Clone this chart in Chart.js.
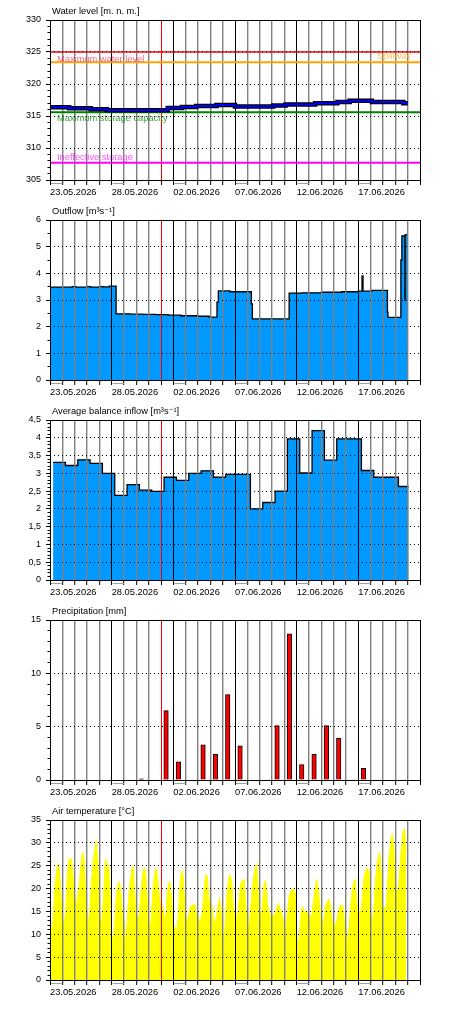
<!DOCTYPE html>
<html>
<head>
<meta charset="utf-8">
<title>Reservoir</title>
<script src="https://cdn.jsdelivr.net/npm/chart.js@4.4.1/dist/chart.umd.min.js"></script>
<style>
  body { margin: 0; background: #fff; width: 450px; height: 1010px; overflow: hidden; }
  canvas { display: block; }
</style>
</head>
<body>
<canvas id="level" width="450" height="200"></canvas>
<canvas id="outflow" width="450" height="200"></canvas>
<canvas id="inflow" width="450" height="200"></canvas>
<canvas id="precip" width="450" height="200"></canvas>
<canvas id="temp" width="450" height="210"></canvas>
<script>
// x values are days since 23.05.2026 00:00
const dateLabels = ["23.05.2026", "28.05.2026", "02.06.2026", "07.06.2026", "12.06.2026", "17.06.2026"];
const markerDay = 9;

// water level [m n. m.]
const levelDays = [0, 1.55, 3.3, 4.6, 9.55, 10.7, 11.85, 13.5, 15.0, 18.1, 19.1, 21.5, 23.3, 24.3, 26.1, 28.65, 29.0];
const levelValues = [316.35, 316.2, 316.05, 315.9, 316.25, 316.4, 316.55, 316.7, 316.5, 316.65, 316.8, 317.0, 317.2, 317.4, 317.2, 317.0, 317.0];

const refLevels = [325, 323.4, 315.6, 307.7];
const refNames = ["Maximum water level", "Spillway", "Maximum storage capacity", "Ineffective storage"];

// outflow [m3/s]
const outflowDays = [0, 1.8, 2.1, 3.0, 3.3, 4.0, 4.3, 4.8, 5.36, 6.5, 7.5, 8.6, 9.6, 10.6, 12.0, 12.9, 13.54, 13.65,
  14.6, 16.33, 16.41, 19.39, 20.4, 22.0, 23.65, 25.0, 25.3, 25.38, 26.1, 27.36, 27.4, 28.45, 28.53, 28.78, 28.8, 29.0];
const outflowValues = [3.48, 3.5, 3.48, 3.5, 3.48, 3.5, 3.49, 3.52, 2.48, 2.47, 2.46, 2.45, 2.43, 2.41, 2.39, 2.36, 2.92, 3.34,
  3.31, 2.85, 2.29, 3.26, 3.27, 3.29, 3.31, 3.33, 3.9, 3.33, 3.36, 2.54, 2.35, 4.5, 5.4, 3.0, 5.45, 5.45];

// average balance inflow [m3/s], one value per day, day starts at 06:00
const inflowDays = [0.25, 1.25, 2.25, 3.25, 4.25, 5.25, 6.25, 7.25, 8.25, 9.25, 10.25, 11.25, 12.25, 13.25, 14.25,
  15.25, 16.25, 17.25, 18.25, 19.25, 20.25, 21.25, 22.25, 23.25, 24.25, 25.25, 26.25, 27.25, 28.25, 29.08];
const inflowValues = [3.31, 3.22, 3.38, 3.28, 3.0, 2.38, 2.68, 2.53, 2.49, 2.89, 2.8, 3.0, 3.07, 2.89, 2.97,
  2.97, 2.0, 2.18, 2.5, 3.97, 3.01, 4.2, 3.37, 3.97, 3.97, 3.08, 2.89, 2.89, 2.63, 2.63];

// daily precipitation [mm]
const precipDays = [7, 9, 10, 12, 13, 14, 15, 18, 19, 20, 21, 22, 23, 25];
const precipValues = [0.1, 6.5, 1.7, 3.3, 2.4, 8.0, 3.2, 5.1, 13.7, 1.45, 2.4, 5.1, 3.9, 1.1];

// air temperature [°C], every 3 hours from 23.05.2026 00:00
const tempStepHours = 3;
const temperature = [
  12.3, 10.8, 13, 20, 23, 25.5, 24.5, 19,
  13.5, 12, 14.5, 21.5, 26, 26.5, 26.5, 22.5,
  18.5, 16, 18.5, 21, 25, 28, 27, 19.5,
  14.5, 12.8, 16, 22, 26, 28.5, 30.5, 26,
  17, 12.5, 13.5, 20.5, 26.5, 25.5, 25, 19,
  10, 8, 13, 18.5, 21, 21.5, 19, 14,
  12.5, 8, 12, 18, 21.5, 24, 25, 18.5,
  13.8, 13.7, 14.5, 19, 23, 24.5, 24, 18,
  13, 11, 15.5, 20.5, 23.5, 24.5, 21.5, 18,
  15.5, 16.2, 14, 13, 19, 21.5, 21, 17,
  12, 11.5, 9.8, 13.5, 19.5, 23, 24, 19,
  13.5, 13, 14.5, 16, 16.2, 16.5, 16.5, 14.5,
  13.5, 13, 13.5, 15.5, 20, 23, 22.8, 18,
  16.3, 16.5, 13.2, 12.5, 14, 16, 18, 15,
  11, 9, 14.5, 19.5, 22.5, 23, 21, 15.5,
  13.5, 13.5, 15, 19, 21.5, 21.8, 22, 16,
  12.5, 11, 15, 19, 22.5, 24.5, 25.5, 20,
  14.5, 14.5, 17, 21.5, 21.5, 16.5, 15, 14,
  14.5, 14, 14.5, 15.5, 16.8, 15.8, 14.8, 13.5,
  11, 11.5, 14.5, 18, 19.5, 19.5, 20, 19,
  10, 7, 11, 15.5, 16, 15, 14.5, 15,
  14, 14, 14.5, 17.5, 20, 22, 20, 16,
  14, 11, 14, 16.5, 17.2, 17.8, 16, 13,
  11, 12, 13, 15, 16, 16.5, 16, 13,
  11, 8.5, 11.5, 16, 19.5, 21.5, 22, 17,
  14, 15, 15.5, 20, 23, 24.2, 24.5, 23.5,
  15, 12.8, 15, 21.5, 25, 27, 28, 22,
  15.5, 16, 15.5, 21.5, 27, 30.5, 32, 29,
  21, 19.5, 19.5, 25, 29, 32.5, 33.2, 28
];

const FONT_FAMILY = "'Liberation Sans', Arial, 'DejaVu Sans', sans-serif";
Chart.defaults.font.family = FONT_FAMILY;
Chart.defaults.font.size = 9;
Chart.defaults.color = "#000";
Chart.defaults.animation = false;
Chart.defaults.plugins.legend.display = false;
Chart.defaults.plugins.tooltip.enabled = false;
Chart.defaults.elements.point.radius = 0;
Chart.defaults.elements.line.tension = 0;

function pairs(xs, ys) {
  return xs.map((x, i) => ({ x: x, y: ys[i] }));
}

function dayLineColor(ctx) {
  const v = ctx.tick ? ctx.tick.value : 0;
  if (v === markerDay) return "#ff0000";
  if (v % 5 === 0) return "#000000";
  return "#808080";
}

function dayLineWidth(ctx) {
  const v = ctx.tick ? ctx.tick.value : 0;
  return v % 5 === 0 || v === markerDay ? 1 : 1.4;
}

function xScale(gridOnTop) {
  return {
    type: "linear",
    min: 0,
    max: 30,
    offset: false,
    afterFit: (s) => { s.height = 20; },
    ticks: {
      stepSize: 1,
      autoSkip: false,
      maxRotation: 0,
      align: "start",
      padding: 2,
      font: { size: 9.3 },
      callback: (v) => (v % 5 === 0 && v < 30 ? dateLabels[v / 5] : ""),
    },
    grid: {
      offset: false,
      z: gridOnTop ? 1 : -1,
      color: dayLineColor,
      lineWidth: dayLineWidth,
      tickLength: 5,
      tickColor: "#000",
      tickWidth: 1,
      tickBorderDash: [],
    },
    border: { display: false },
  };
}

function yScales(min, max, major, minor, fmt) {
  return {
    y: {
      type: "linear",
      position: "left",
      min: min,
      max: max,
      weight: 1,
      afterFit: (s) => { s.width = 50; },
      ticks: { stepSize: major, padding: 5, callback: fmt },
      grid: {
        z: 1,
        color: (c) => (c.tick && (c.tick.value === min || c.tick.value === max) ? "rgba(0,0,0,0)" : "#000"),
        lineWidth: 1,
        tickLength: 4,
        tickColor: "#000",
        tickBorderDash: [],
      },
      border: { display: false, dash: [1, 3] },
    },
    y2: {
      type: "linear",
      position: "left",
      min: min,
      max: max,
      weight: 0,
      afterFit: (s) => { s.width = 0; },
      ticks: { stepSize: minor, display: false },
      grid: { drawOnChartArea: false, tickLength: 2.5, tickColor: "#000", tickBorderDash: [] },
      border: { display: false },
    },
  };
}

// frame, title and the small grey marks under the date labels
const panelPlugin = {
  id: "panel",
  afterDraw(chart, args, opts) {
    const { ctx, chartArea: a } = chart;
    const xs = chart.scales.x;
    ctx.save();
    if (opts.refs) {
      const ys = chart.scales.y;
      const colors = ["rgba(255,60,110,0.8)", "rgba(255,165,0,0.7)", "rgba(0,128,0,0.75)", "rgba(255,0,255,0.7)"];
      const dy = [7, -5.5, 6.5, -5.5];
      ctx.font = "9.3px " + FONT_FAMILY;
      ctx.textBaseline = "middle";
      refNames.forEach((name, i) => {
        const py = ys.getPixelForValue(refLevels[i]) + dy[i];
        ctx.fillStyle = colors[i];
        if (i === 1) {
          ctx.textAlign = "right";
          ctx.fillText(name, a.right - 9, py);
        } else {
          ctx.textAlign = "left";
          ctx.fillText(name, a.left + 7, py);
        }
      });
    }
    ctx.strokeStyle = "#000";
    ctx.lineWidth = 1;
    ctx.strokeRect(a.left + 0.5, a.top + 0.5, a.right - a.left, a.bottom - a.top);
    ctx.strokeStyle = "#a0a0a0";
    ctx.beginPath();
    for (let d = 0; d < 30; d += 5) {
      ctx.moveTo(xs.getPixelForValue(d) + 1, a.bottom + 3.5);
      ctx.lineTo(xs.getPixelForValue(d + 1), a.bottom + 3.5);
    }
    ctx.stroke();
    ctx.fillStyle = "#000";
    ctx.textAlign = "left";
    ctx.textBaseline = "middle";
    ctx.font = "9.3px " + FONT_FAMILY;
    ctx.fillText(opts.title, a.left + 2, a.top - 9);
    ctx.restore();
  },
};

const layout = { padding: { top: 20, right: 30, left: 0, bottom: 0 } };
const intLabel = (v) => String(v);
const commaLabel = (v) => String(v).replace(".", ",");

// 1. water level
const refColors = ["#ff0000", "#ffa500", "#008000", "#ff00ff"];
const refWidths = [1.5, 2, 2, 2];
const levelSets = [
  { data: pairs(levelDays, levelValues), borderColor: "#0000ff", borderWidth: 2, stepped: true },
  { data: pairs(levelDays, levelValues), borderColor: "#000000", borderWidth: 4.5, stepped: true },
];
refLevels.forEach((lvl, i) => {
  levelSets.push({ data: [{ x: 0, y: lvl }, { x: 30, y: lvl }], borderColor: refColors[i], borderWidth: refWidths[i] });
});
new Chart(document.getElementById("level"), {
  type: "line",
  data: { datasets: levelSets },
  options: {
    responsive: false,
    layout: layout,
    scales: Object.assign({ x: xScale(false) }, yScales(305, 330, 5, 1, intLabel)),
    plugins: { panel: { title: "Water level [m. n. m.]", refs: true } },
  },
  plugins: [panelPlugin],
});

// 2. outflow
new Chart(document.getElementById("outflow"), {
  type: "line",
  data: {
    datasets: [{
      data: pairs(outflowDays, outflowValues),
      stepped: true,
      fill: "origin",
      backgroundColor: "#0099ff",
      borderColor: "#000",
      borderWidth: 1.3,
    }],
  },
  options: {
    responsive: false,
    layout: layout,
    scales: Object.assign({ x: xScale(true) }, yScales(0, 6, 1, 0.5, intLabel)),
    plugins: { panel: { title: "Outflow [m³s⁻¹]" } },
  },
  plugins: [panelPlugin],
});

// 3. average balance inflow
new Chart(document.getElementById("inflow"), {
  type: "line",
  data: {
    datasets: [{
      data: pairs(inflowDays, inflowValues),
      stepped: true,
      fill: "origin",
      backgroundColor: "#0099ff",
      borderColor: "#000",
      borderWidth: 1.3,
    }],
  },
  options: {
    responsive: false,
    layout: layout,
    scales: Object.assign({ x: xScale(true) }, yScales(0, 4.5, 0.5, 0.1, commaLabel)),
    plugins: { panel: { title: "Average balance inflow [m³s⁻¹]" } },
  },
  plugins: [panelPlugin],
});

// 4. precipitation
new Chart(document.getElementById("precip"), {
  type: "bar",
  data: {
    datasets: [{
      data: precipDays.map((d, i) => ({ x: d + 0.41, y: precipValues[i] })),
      backgroundColor: "#ff0000",
      borderColor: "#000",
      borderWidth: 1,
      barThickness: 4.5,
      grouped: false,
    }],
  },
  options: {
    responsive: false,
    layout: layout,
    scales: Object.assign({ x: xScale(false) }, yScales(0, 15, 5, 1, intLabel)),
    plugins: { panel: { title: "Precipitation [mm]" } },
  },
  plugins: [panelPlugin],
});

// 5. air temperature
new Chart(document.getElementById("temp"), {
  type: "line",
  data: {
    datasets: [{
      data: temperature.map((t, i) => ({ x: (i * tempStepHours) / 24, y: t })),
      fill: "origin",
      backgroundColor: "#ffff00",
      borderColor: "#ffff00",
      borderWidth: 1,
    }],
  },
  options: {
    responsive: false,
    layout: { padding: { top: 20, right: 30, left: 0, bottom: 10 } },
    scales: Object.assign({ x: xScale(true) }, yScales(0, 35, 5, 1, intLabel)),
    plugins: { panel: { title: "Air temperature [°C]" } },
  },
  plugins: [panelPlugin],
});
</script>
</body>
</html>
